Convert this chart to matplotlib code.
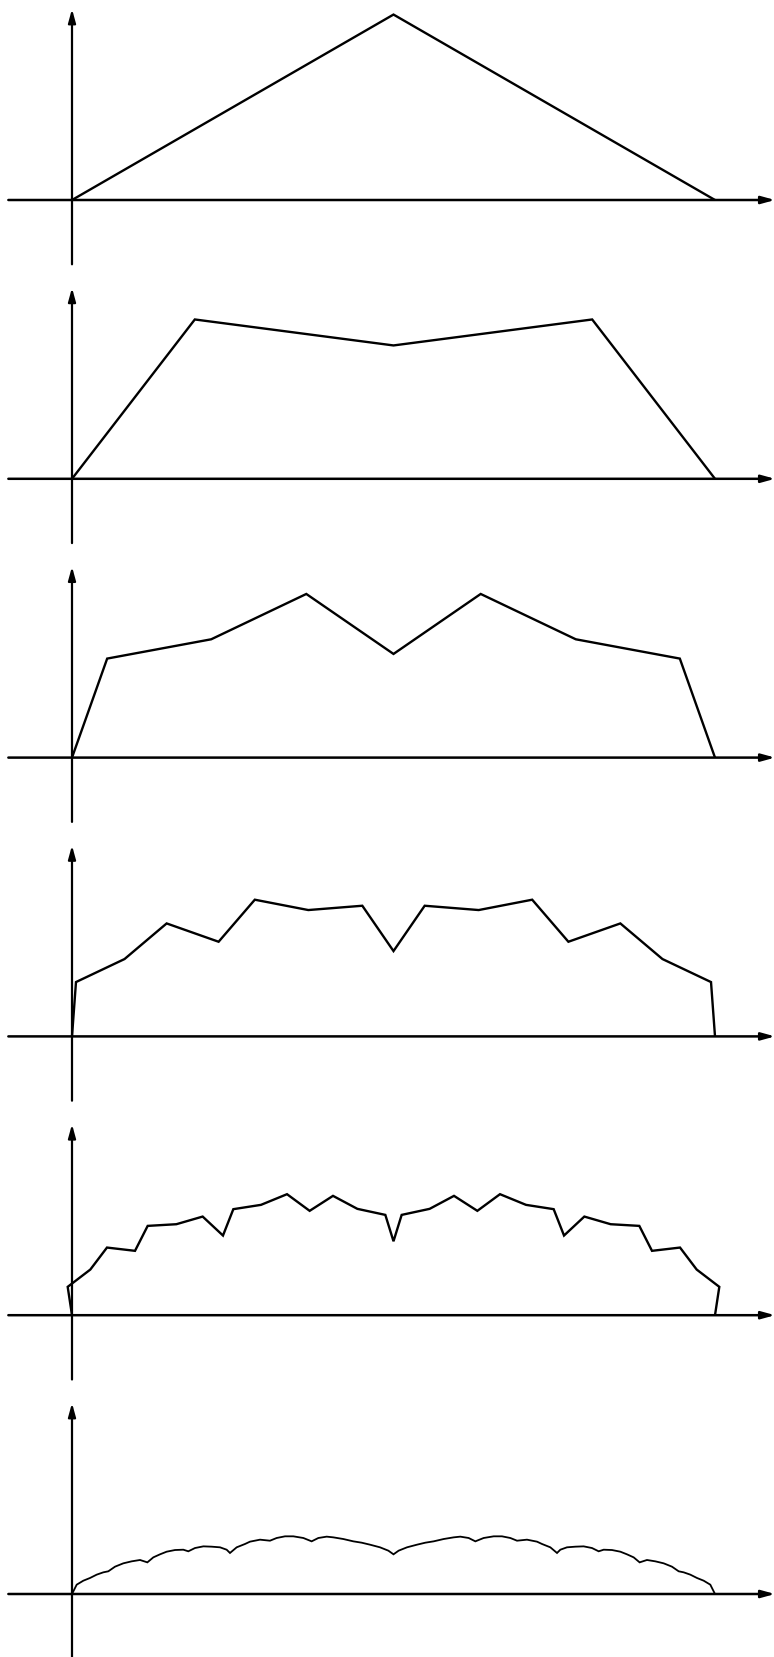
import matplotlib
matplotlib.use('Agg')
import matplotlib.pyplot as plt

# Curve vertices (x from 0 to 1, same units on y)
x1 = [0, 0.5, 1]
y1 = [0, 0.2884, 0]

x2 = [0, 0.191, 0.5, 0.809, 1]
y2 = [0, 0.2478, 0.2074, 0.2478, 0]

x3 = [0, 0.0547, 0.2165, 0.3644, 0.5, 0.6356, 0.7835, 0.9453, 1]
y3 = [0, 0.1540, 0.1840, 0.2545, 0.1612, 0.2545, 0.1840, 0.1540, 0]

x4 = [0, 0.0062, 0.0817, 0.1472, 0.2280, 0.2843, 0.3675, 0.4515, 0.5,
      0.5485, 0.6325, 0.7157, 0.7720, 0.8528, 0.9183, 0.9938, 1]
y4 = [0, 0.0845, 0.1203, 0.1757, 0.1472, 0.2126, 0.1965, 0.2032, 0.1327,
      0.2032, 0.1965, 0.2126, 0.1472, 0.1757, 0.1203, 0.0845, 0]

x5 = [0, -0.0067, 0.0285, 0.0544, 0.0980, 0.1177, 0.1623, 0.2032, 0.2348,
      0.2509, 0.2939, 0.3344, 0.3696, 0.4059, 0.4438, 0.4873, 0.5,
      0.5127, 0.5562, 0.5941, 0.6304, 0.6656, 0.7061, 0.7491, 0.7652,
      0.7968, 0.8377, 0.8823, 0.9020, 0.9456, 0.9715, 1.0067, 1]
y5 = [0, 0.0441, 0.0710, 0.1052, 0.1001, 0.1389, 0.1415, 0.1534, 0.1239,
      0.1649, 0.1716, 0.1882, 0.1623, 0.1856, 0.1654, 0.1560, 0.1150,
      0.1560, 0.1654, 0.1856, 0.1623, 0.1882, 0.1716, 0.1649, 0.1239,
      0.1534, 0.1415, 0.1389, 0.1001, 0.1052, 0.0710, 0.0441, 0]

x6 = [0, 0.0073, 0.0176, 0.0280, 0.0384, 0.0487, 0.0565, 0.0669, 0.0798, 0.0928,
      0.1058, 0.1172, 0.1265, 0.1369, 0.1472, 0.1602, 0.1731, 0.1809, 0.1913, 0.2043,
      0.2172, 0.2302, 0.2405, 0.2457, 0.2561, 0.2691, 0.2768, 0.2924, 0.3079, 0.3183,
      0.3313, 0.3442, 0.3598, 0.3727, 0.3831, 0.3961, 0.4064, 0.4220, 0.4375, 0.4505,
      0.4635, 0.4790, 0.4920, 0.5,
      0.5080, 0.5210, 0.5365, 0.5495, 0.5625, 0.5780, 0.5936, 0.6039, 0.6169, 0.6273,
      0.6402, 0.6558, 0.6687, 0.6817, 0.6921, 0.7076, 0.7232, 0.7309, 0.7439, 0.7543,
      0.7595, 0.7698, 0.7828, 0.7957, 0.8087, 0.8191, 0.8269, 0.8398, 0.8528, 0.8631,
      0.8735, 0.8828, 0.8942, 0.9072, 0.9202, 0.9331, 0.9435, 0.9513, 0.9616, 0.9720,
      0.9824, 0.9927, 1]
y6 = [0, 0.0145, 0.0207, 0.0249, 0.0301, 0.0337, 0.0353, 0.0425, 0.0477, 0.0508,
      0.0529, 0.0492, 0.0570, 0.0617, 0.0658, 0.0684, 0.0689, 0.0664, 0.0715, 0.0741,
      0.0736, 0.0726, 0.0689, 0.0638, 0.0726, 0.0778, 0.0814, 0.0845, 0.0829, 0.0871,
      0.0897, 0.0897, 0.0871, 0.0819, 0.0871, 0.0892, 0.0881, 0.0855, 0.0819, 0.0798,
      0.0767, 0.0726, 0.0674, 0.0617,
      0.0674, 0.0726, 0.0767, 0.0798, 0.0819, 0.0855, 0.0881, 0.0892, 0.0871, 0.0819,
      0.0871, 0.0897, 0.0897, 0.0871, 0.0829, 0.0845, 0.0814, 0.0778, 0.0726, 0.0638,
      0.0689, 0.0726, 0.0736, 0.0741, 0.0715, 0.0664, 0.0689, 0.0684, 0.0658, 0.0617,
      0.0570, 0.0492, 0.0529, 0.0508, 0.0477, 0.0425, 0.0353, 0.0337, 0.0301, 0.0249,
      0.0207, 0.0145, 0]

panels = [(x1, y1), (x2, y2), (x3, y3), (x4, y4), (x5, y5), (x6, y6)]
curve_lw = [1.7, 1.7, 1.7, 1.7, 1.7, 1.3]

# Figure / layout (pixels)
W, H = 774, 1657
unit = 643.0          # pixels per data unit, both directions
x0_px = 72            # where x=0 sits
above, below = 200, 79
step = 278.8

fig = plt.figure(figsize=(W / 100, H / 100), dpi=100)

arrow = dict(arrowstyle='-|>,head_length=0.8,head_width=0.22', color='black',
             shrinkA=0, shrinkB=0)

for k, (xs, ys) in enumerate(panels):
    base = above + step * k
    ax = fig.add_axes([0, (H - base - below) / H, 1, (above + below) / H])
    ax.set_xlim(-x0_px / unit, (W - x0_px) / unit)
    ax.set_ylim(-below / unit, above / unit)
    ax.axis('off')

    # axes with arrow heads
    ax.annotate('', xy=((W - x0_px + 1) / unit, 0), xytext=(-0.099, 0),
                arrowprops=dict(arrow, lw=1.8), annotation_clip=False)
    ax.annotate('', xy=(0, 0.297), xytext=(0, -0.1),
                arrowprops=dict(arrow, lw=1.6), annotation_clip=False)

    ax.plot(xs, ys, color='black', lw=curve_lw[k], solid_joinstyle='miter',
            solid_capstyle='butt', clip_on=False)

fig.savefig('out.png', dpi=100)
